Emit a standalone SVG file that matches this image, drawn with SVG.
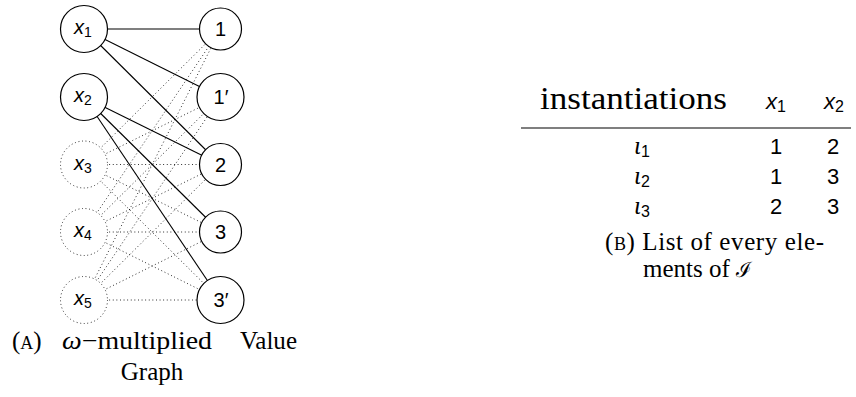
<svg xmlns="http://www.w3.org/2000/svg" width="856" height="397" viewBox="0 0 856 397">
<style>
.bg{fill:#fff}
.solid{stroke:#000;stroke-width:1.1;fill:none}
.dot{stroke:#000;stroke-width:0.9;stroke-dasharray:0.9 2.7;fill:none}
.node{fill:#fff;stroke:#000;stroke-width:1.2}
.dnode{fill:#fff;stroke:#000;stroke-width:0.9;stroke-dasharray:0.9 2.7}
.lab{font-family:"Liberation Sans",Arial,sans-serif;font-size:20px;fill:#000;text-anchor:middle}
.it{font-style:italic}
.sub{font-size:14px}
.serif{font-family:"Liberation Serif","Times New Roman",serif;fill:#000}
.cap{font-size:25px}
.sc{font-size:18px}
.tab{font-size:22px}
.tsub{font-size:16px}
.iota{font-family:"Liberation Serif","Times New Roman",serif;font-style:italic;font-size:25px}
</style>
<rect class="bg" x="0" y="0" width="856" height="397"/>
<g id="connectors">
<line class="solid" x1="84" y1="29" x2="220.5" y2="29"/>
<line class="solid" x1="84" y1="29" x2="220.5" y2="97"/>
<line class="solid" x1="84" y1="29" x2="220.5" y2="164.5"/>
<line class="solid" x1="84" y1="97" x2="220.5" y2="164.5"/>
<line class="solid" x1="84" y1="97" x2="220.5" y2="232"/>
<line class="solid" x1="84" y1="97" x2="220.5" y2="300"/>
<line class="dot" x1="84" y1="164.5" x2="220.5" y2="29"/>
<line class="dot" x1="84" y1="164.5" x2="220.5" y2="97"/>
<line class="dot" x1="84" y1="164.5" x2="220.5" y2="164.5"/>
<line class="dot" x1="84" y1="164.5" x2="220.5" y2="232"/>
<line class="dot" x1="84" y1="164.5" x2="220.5" y2="300"/>
<line class="dot" x1="84" y1="232" x2="220.5" y2="29"/>
<line class="dot" x1="84" y1="232" x2="220.5" y2="97"/>
<line class="dot" x1="84" y1="232" x2="220.5" y2="164.5"/>
<line class="dot" x1="84" y1="232" x2="220.5" y2="232"/>
<line class="dot" x1="84" y1="232" x2="220.5" y2="300"/>
<line class="dot" x1="84" y1="300" x2="220.5" y2="29"/>
<line class="dot" x1="84" y1="300" x2="220.5" y2="97"/>
<line class="dot" x1="84" y1="300" x2="220.5" y2="164.5"/>
<line class="dot" x1="84" y1="300" x2="220.5" y2="232"/>
<line class="dot" x1="84" y1="300" x2="220.5" y2="300"/>
</g>
<g id="x1"><circle class="node" cx="84" cy="29" r="23.5"/><text class="lab" x="83" y="34"><tspan class="it">x</tspan><tspan class="sub" dy="3">1</tspan></text></g>
<g id="x2"><circle class="node" cx="84" cy="97" r="23.5"/><text class="lab" x="83" y="102"><tspan class="it">x</tspan><tspan class="sub" dy="3">2</tspan></text></g>
<g id="x3"><circle class="dnode" cx="84" cy="164.5" r="23.5"/><text class="lab" x="83" y="169.5"><tspan class="it">x</tspan><tspan class="sub" dy="3">3</tspan></text></g>
<g id="x4"><circle class="dnode" cx="84" cy="232" r="23.5"/><text class="lab" x="83" y="237"><tspan class="it">x</tspan><tspan class="sub" dy="3">4</tspan></text></g>
<g id="x5"><circle class="dnode" cx="84" cy="300" r="23.5"/><text class="lab" x="83" y="305"><tspan class="it">x</tspan><tspan class="sub" dy="3">5</tspan></text></g>
<g id="v1"><circle class="node" cx="220.5" cy="29" r="21"/><text class="lab" x="220.5" y="36">1</text></g>
<g id="v1p"><circle class="node" cx="220.5" cy="97" r="23.5"/><text class="lab" x="221" y="104">1′</text></g>
<g id="v2"><circle class="node" cx="220.5" cy="164.5" r="21"/><text class="lab" x="220.5" y="171.5">2</text></g>
<g id="v3"><circle class="node" cx="220.5" cy="232" r="21"/><text class="lab" x="220.5" y="239">3</text></g>
<g id="v3p"><circle class="node" cx="220.5" cy="300" r="23.5"/><text class="lab" x="221" y="307">3′</text></g>
<g id="captionA">
<text class="serif cap" x="12" y="349">(<tspan class="sc">A</tspan>)</text>
<text class="serif cap" x="62" y="349" textLength="150" lengthAdjust="spacingAndGlyphs"><tspan font-style="italic">ω</tspan>−multiplied</text>
<text class="serif cap" x="240" y="349" textLength="57" lengthAdjust="spacingAndGlyphs">Value</text>
<text class="serif cap" x="152" y="380" text-anchor="middle">Graph</text>
</g>
<g id="table">
<text class="serif" font-size="31" x="540" y="109" textLength="187" lengthAdjust="spacingAndGlyphs">instantiations</text>
<text class="lab tab" x="776" y="109"><tspan class="it">x</tspan><tspan class="tsub" dy="3">1</tspan></text>
<text class="lab tab" x="834" y="109"><tspan class="it">x</tspan><tspan class="tsub" dy="3">2</tspan></text>
<line x1="521" y1="128" x2="851" y2="128" stroke="#000" stroke-width="1.1"/>
<text class="lab tab" x="642" y="154"><tspan class="iota">ι</tspan><tspan class="tsub" dy="3">1</tspan></text>
<text class="lab tab" x="642" y="184"><tspan class="iota">ι</tspan><tspan class="tsub" dy="3">2</tspan></text>
<text class="lab tab" x="642" y="214"><tspan class="iota">ι</tspan><tspan class="tsub" dy="3">3</tspan></text>
<text class="lab tab" x="776" y="154">1</text>
<text class="lab tab" x="833" y="154">2</text>
<text class="lab tab" x="776" y="184">1</text>
<text class="lab tab" x="833" y="184">3</text>
<text class="lab tab" x="776" y="214">2</text>
<text class="lab tab" x="833" y="214">3</text>
</g>
<g id="captionB">
<text class="serif cap" x="605" y="250" textLength="219" lengthAdjust="spacing">(<tspan class="sc">B</tspan>) List of every ele-</text>
<text class="serif cap" x="643" y="277">ments of</text>
<text x="736" y="277" font-family="DejaVu Serif,serif" font-size="21" fill="#000">ℐ</text>
</g>
</svg>
